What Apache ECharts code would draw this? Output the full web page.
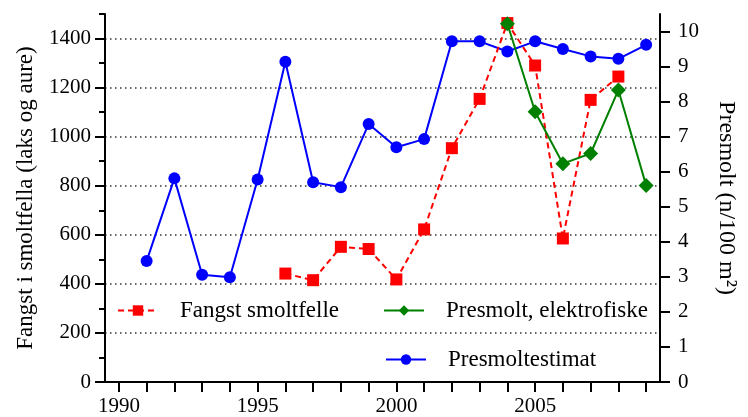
<!DOCTYPE html>
<html>
<head>
<meta charset="utf-8">
<script src="https://cdn.jsdelivr.net/npm/echarts@6/dist/echarts.min.js"></script>
<style>
  html, body { margin: 0; padding: 0; background: #fff; }
  #chart { width: 748px; height: 417px; }
</style>
</head>
<body>
<div id="chart"></div>
<script>
// Years on the x axis
const years = ['1990','1991','1992','1993','1994','1995','1996','1997','1998','1999',
               '2000','2001','2002','2003','2004','2005','2006','2007','2008','2009'];

// Catch in the smolt trap (left axis), 1996–2008
const fangstSmoltfelle = [null, null, null, null, null, null,
  442, 415, 551, 542, 418, 622, 953, 1154, 1463, 1290, 585, 1150, 1245, null];

// Presmolt density from electrofishing (right axis), 2004–2009
const presmoltElektrofiske = [null, null, null, null, null, null, null, null, null, null,
  null, null, null, null, 10.22, 7.71, 6.23, 6.52, 8.33, 5.61];

// Presmolt estimate (right axis), 1991–2009
const presmoltestimat = [null, 3.45, 5.81, 3.06, 2.99, 5.78, 9.14, 5.70, 5.56, 7.36,
  6.70, 6.93, 9.72, 9.72, 9.43, 9.72, 9.50, 9.29, 9.22, 9.62];

// Tick values
const leftTicks = [0, 200, 400, 600, 800, 1000, 1200, 1400];
const rightTicks = [0, 1, 2, 3, 4, 5, 6, 7, 8, 9, 10];

const FONT = 'Liberation Serif';
const axisLine = { show: true, lineStyle: { color: '#000', width: 2 } };
const tickStyle = { color: '#000', width: 2 };
const labelStyle = { color: '#000', fontSize: 21, fontFamily: FONT };
const plain = function (v) { return String(v); };

const chart = echarts.init(document.getElementById('chart'), null, { renderer: 'canvas' });

const legendBase = {
  orient: 'horizontal',
  padding: 0,
  itemWidth: 40,
  itemHeight: 13,
  textStyle: { color: '#000', fontSize: 23, fontFamily: FONT, padding: [0, 0, 0, 17] }
};

chart.setOption({
  animation: false,
  backgroundColor: '#fff',
  grid: { left: 105, right: 88, top: 14, bottom: 35, containLabel: false },
  legend: [
    Object.assign({}, legendBase, { data: ['Fangst smoltfelle'], left: 117, top: 299 }),
    Object.assign({}, legendBase, { data: ['Presmolt, elektrofiske'], left: 383, top: 299 }),
    Object.assign({}, legendBase, { data: ['Presmoltestimat'], left: 385, top: 348 })
  ],
  xAxis: {
    type: 'category',
    data: years,
    boundaryGap: true,
    axisLine: axisLine,
    axisTick: { show: true, alignWithLabel: true, interval: 0, length: 10, lineStyle: tickStyle },
    axisLabel: Object.assign({}, labelStyle, {
      interval: function (i) { return i % 5 === 0; },
      margin: 14
    }),
    splitLine: { show: false }
  },
  yAxis: [
    {
      type: 'value',
      position: 'left',
      min: 0, max: 1500, interval: 200,
      axisLine: axisLine,
      axisTick: { show: true, length: 10, lineStyle: tickStyle, customValues: leftTicks },
      axisLabel: Object.assign({}, labelStyle, { margin: 14, customValues: leftTicks, formatter: plain }),
      splitLine: {
        show: true,
        lineStyle: {
          color: ['rgba(0,0,0,0)', '#333', '#333', '#333', '#333', '#333', '#333', '#333', 'rgba(0,0,0,0)'],
          width: 1.5,
          type: [1.5, 3.5]
        }
      },
      name: 'Fangst i smoltfella (laks og aure)',
      nameLocation: 'middle',
      nameRotate: 90,
      nameGap: 68,
      nameTextStyle: { color: '#000', fontSize: 23, fontFamily: FONT }
    },
    {
      type: 'value',
      position: 'right',
      min: 0, max: 10.5, interval: 1,
      axisLine: axisLine,
      axisTick: { show: true, length: 10, lineStyle: tickStyle, customValues: rightTicks },
      axisLabel: Object.assign({}, labelStyle, { margin: 18, customValues: rightTicks, formatter: plain }),
      splitLine: { show: false },
      name: 'Presmolt (n/100 m²)',
      nameLocation: 'middle',
      nameRotate: -90,
      nameGap: 54,
      nameTextStyle: { color: '#000', fontSize: 24, fontFamily: FONT }
    },
    {
      // short minor ticks every 100 on the left axis
      type: 'value',
      position: 'left',
      min: 0, max: 1500, interval: 100,
      axisLine: { show: false },
      axisTick: { show: true, length: 6, lineStyle: tickStyle },
      axisLabel: { show: false },
      splitLine: { show: false }
    }
  ],
  series: [
    {
      name: 'Presmoltestimat',
      type: 'line',
      yAxisIndex: 1,
      data: presmoltestimat,
      symbol: 'circle',
      symbolSize: 12,
      lineStyle: { color: '#0000ff', width: 2 },
      itemStyle: { color: '#0000ff' },
      z: 2
    },
    {
      name: 'Fangst smoltfelle',
      type: 'line',
      yAxisIndex: 0,
      data: fangstSmoltfelle,
      symbol: 'rect',
      symbolSize: 12,
      lineStyle: { color: '#ff0000', width: 2, type: [6, 4] },
      itemStyle: { color: '#ff0000' },
      z: 3
    },
    {
      name: 'Presmolt, elektrofiske',
      type: 'line',
      yAxisIndex: 1,
      data: presmoltElektrofiske,
      symbol: 'diamond',
      symbolSize: 15,
      lineStyle: { color: '#008000', width: 2 },
      itemStyle: { color: '#008000' },
      z: 4
    }
  ]
});
</script>
</body>
</html>
